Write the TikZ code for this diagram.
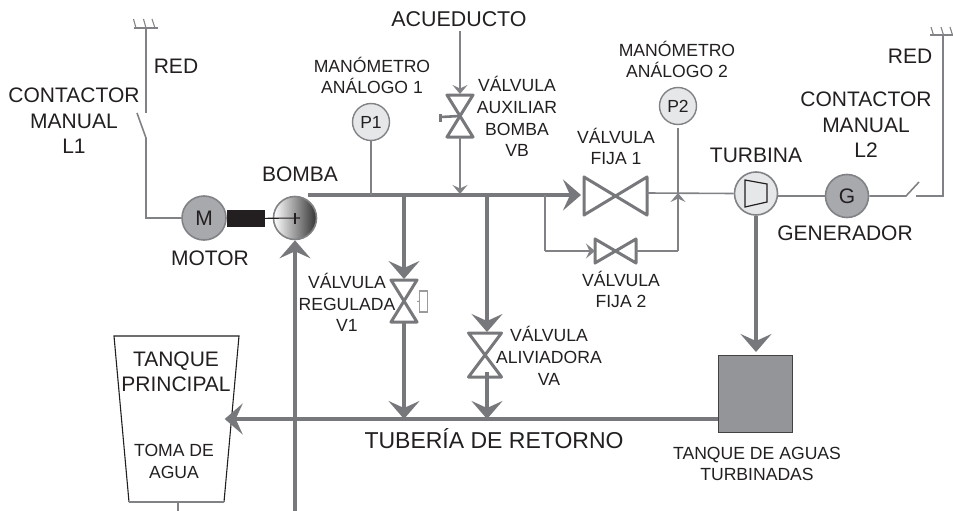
\documentclass[tikz,border=0pt]{standalone}
\usepackage{fontspec}
\setmainfont{Liberation Sans}
\usepackage{xcolor}
\usetikzlibrary{arrows.meta, calc, positioning}
\definecolor{pipegray}{HTML}{77787B}
\definecolor{thingray}{HTML}{808285}
\definecolor{textdark}{HTML}{231F20}
\definecolor{motorgray}{HTML}{A7A9AC}
\definecolor{dialgray}{HTML}{E6E7E8}
\definecolor{tankgray}{HTML}{939598}
\tikzset{
  bigtext/.style={text=textdark, font=\fontsize{21}{25.5}\selectfont, align=center, inner sep=0pt},
  smalltext/.style={text=textdark, font=\fontsize{17.6}{21.8}\selectfont, align=center, inner sep=0pt},
  pipe/.style={draw=pipegray, line width=3.2pt},
  thinpipe/.style={draw=thingray, line width=1.6pt},
  bigflow/.style={pipe, -{Stealth[length=18pt, width=31pt, inset=7pt]}},
  midflow/.style={thinpipe, -{Stealth[length=9pt, width=15pt, inset=3.5pt]}},
  valvebox/.style 2 args={minimum width=#1, minimum height=#2, inner sep=0pt, outer sep=0pt},
  valveline/.style={draw=pipegray, line width=3pt, line join=round},
  machine/.style={circle, draw=thingray, line width=1.6pt, minimum size=#1, inner sep=0pt, text=textdark, font=\fontsize{21}{25}\selectfont},
  dial/.style={circle, draw=thingray, fill=dialgray, line width=1.4pt, minimum size=37, inner sep=0pt, text=textdark, font=\fontsize{17.5}{21}\selectfont},
}
\begin{document}
\begin{tikzpicture}[x=1pt, y=-1pt]
\useasboundingbox (0,0) rectangle (953,511);

% machines
\node (motor) at (204,218) [machine=44, fill=motorgray] {M};
\node (bomba) at (295,218) [machine=43, left color=white, middle color=gray!85, right color=black!80] {};
\node (turbina) at (756,193.5) [machine=43, fill=dialgray] {};
\node (generador) at (847,196) [machine=43, fill=motorgray] {G};
\node (p1) at (371,122) [dial] {P1};
\node (p2) at (678,106) [dial] {P2};

% valves
\node (vf1) at (615.5,196) [valvebox={63}{38}] {};
\node (vf2) at (615.5,251) [valvebox={41}{24}] {};
\node (vb) at (460,116) [valvebox={26}{42}] {};
\node (v1) at (404,301) [valvebox={26}{42}] {};
\node (va) at (485,355) [valvebox={33}{44}] {};
\draw[valveline] (vf1.north west) -- (vf1.south east) -- (vf1.north east) -- (vf1.south west) -- cycle;
\draw[valveline] (vf2.north west) -- (vf2.south east) -- (vf2.north east) -- (vf2.south west) -- cycle;
\draw[valveline] (vb.north west) -- (vb.north east) -- (vb.south west) -- (vb.south east) -- cycle;
\draw[valveline] (v1.north west) -- (v1.north east) -- (v1.south west) -- (v1.south east) -- cycle;
\draw[valveline] (va.north west) -- (va.north east) -- (va.south west) -- (va.south east) -- cycle;

% tanks
\node (tanque) at (176.5,419) [minimum width=96, minimum height=166, inner sep=0pt] {};
\node (aguas) at (755.5,394) [draw=textdark!85, fill=tankgray, line width=1.8pt, minimum width=74, minimum height=77, inner sep=0pt] {};
\draw[textdark, line width=1.1pt] (129,502) -- (114,336) -- (239,336) -- (224,502);
\draw[thingray, line width=1.4pt] (129,502) -- (224,502);

% network, left
\coordinate (redA) at (146,28);
\coordinate (contA) at (146,113);
\coordinate (contB) at (146,138);
\coordinate (contC) at (137,113);
\coordinate (cornerA) at (146,218);
\draw[thinpipe] (redA) -- (contA);
\draw[thinpipe] (contC) -- (contB) -- (cornerA) -- (motor);
\draw[thingray, line width=1.1pt] (134,28) -- (158,28);
\draw[thingray, line width=1.1pt] (133.5,19) -- (136,28) (143.5,19) -- (146,28) (152,19) -- (155,28);

% network, right
\coordinate (redB) at (943,35);
\coordinate (cornerB) at (943,196);
\coordinate (contD) at (916,196);
\coordinate (contE) at (906,196);
\coordinate (contF) at (919,182);
\draw[thinpipe] (redB) -- (cornerB) -- (contD);
\draw[thinpipe] (generador) -- (contE) -- (contF);
\draw[thinpipe] (turbina.east |- generador) -- (generador);
\draw[thingray, line width=1.1pt] (930,35) -- (953,35);
\draw[thingray, line width=1.1pt] (931,27) -- (933.5,35) (941,27) -- (943.5,35) (950,27) -- (952.5,35);

% shaft
\node (acople) at (246,218.5) [fill=textdark, minimum width=38, minimum height=17, inner sep=0pt] {};
\coordinate (eje) at (300,218);
\draw[textdark, line width=1.1pt] (acople) -- (eje);
\draw[textdark, line width=1.1pt] (295,213) -- (295,224);

% main line
\coordinate (mainA) at (308,195);
\coordinate (mainB) at (581,195);
\draw[bigflow] (mainA) -- (mainB);
\draw[thinpipe] (p1) -- (371,195);
\coordinate (acu) at (460,31);
\draw[midflow] (acu) -- (460,94);
\draw[midflow] (vb.south) -- (460,194);
\draw[pipegray, line width=2.6pt] (vb.center) -- (441,117);
\draw[pipegray, line width=3.6pt] (440.5,113.5) -- (440.5,122);

% branch to v1
\coordinate (retA) at (404,419);
\draw[bigflow] (404,195) -- (404,279);
\draw[bigflow] (v1.south) -- (retA);
\node (v1mando) at (423.5,301.5) [draw=thingray!80, line width=1.1pt, minimum width=8, minimum height=21, inner sep=0pt] {};
\draw[thingray!80, line width=1.1pt] (v1) -- (v1mando);

% branch to va
\coordinate (retB) at (487,419);
\draw[bigflow] (487,195) -- (487,332);
\draw[bigflow] (487,372) -- (retB);

% bypass
\coordinate (byA) at (545,195);
\coordinate (byB) at (545,251);
\coordinate (byC) at (678,251);
\draw[thinpipe] (byA) -- (byB);
\draw[midflow] (byB) -- (vf2.west);
\draw[thinpipe] (vf2.east) -- (byC);
\draw[midflow] (byC) -- (678,193);
\draw[thinpipe] (p2) ++(0,22) -- (678,193);
\draw[thinpipe] (vf1.east |- 0,193) -- (turbina.west);

% turbine, return
\draw[bigflow] (turbina.south) -- (756,352);
\draw[bigflow] (aguas.west |- 0,419) -- (tanque.east |- 0,419);
\coordinate (fondo) at (295,511);
\draw[bigflow] (fondo) -- (bomba.south);
\draw[thingray, line width=2.4pt] (178,502) -- (178,511);
\draw[textdark, line width=1.2pt] (745,180) -- (767,184) -- (767,202) -- (745,207) -- cycle;

% labels
\node (lred1) at (176,66.5) [bigtext] {RED};
\node (lcont1) at (74,121) [bigtext] {CONTACTOR\\MANUAL\\L1};
\node (lmotor) at (210,258) [bigtext] {MOTOR};
\node (lbomba) at (300,174.5) [bigtext] {BOMBA};
\node (lman1) at (372,75.5) [smalltext] {MANÓMETRO\\ANÁLOGO 1};
\node (lacu) at (459,19.5) [bigtext, font=\fontsize{21.4}{25}\selectfont] {ACUEDUCTO};
\node (lvb) at (517,116.5) [smalltext] {VÁLVULA\\AUXILIAR\\BOMBA\\VB};
\node (lvf1) at (616,146.5) [smalltext] {VÁLVULA\\FIJA 1};
\node (lman2) at (677,59.5) [smalltext] {MANÓMETRO\\ANÁLOGO 2};
\node (lturb) at (756,155.5) [bigtext] {TURBINA};
\node (lred2) at (910,56) [bigtext] {RED};
\node (lcont2) at (866,125) [bigtext] {CONTACTOR\\MANUAL\\L2};
\node (lgen) at (845,233.5) [bigtext] {GENERADOR};
\node (lvf2) at (621,289.5) [smalltext] {VÁLVULA\\FIJA 2};
\node (lv1) at (347,302.5) [smalltext] {VÁLVULA\\REGULADA\\V1};
\node (lva) at (549,356) [smalltext] {VÁLVULA\\ALIVIADORA\\VA};
\node (lret) at (494,438.5) [bigtext, font=\fontsize{23}{27}\selectfont] {TUBERÍA DE RETORNO};
\node (laguas) at (757,464) [smalltext] {TANQUE DE AGUAS\\TURBINADAS};
\node (ltan) at (176,372) [bigtext] {TANQUE\\PRINCIPAL};
\node (ltoma) at (174,461.5) [smalltext] {TOMA DE\\AGUA};

\end{tikzpicture}
\end{document}
